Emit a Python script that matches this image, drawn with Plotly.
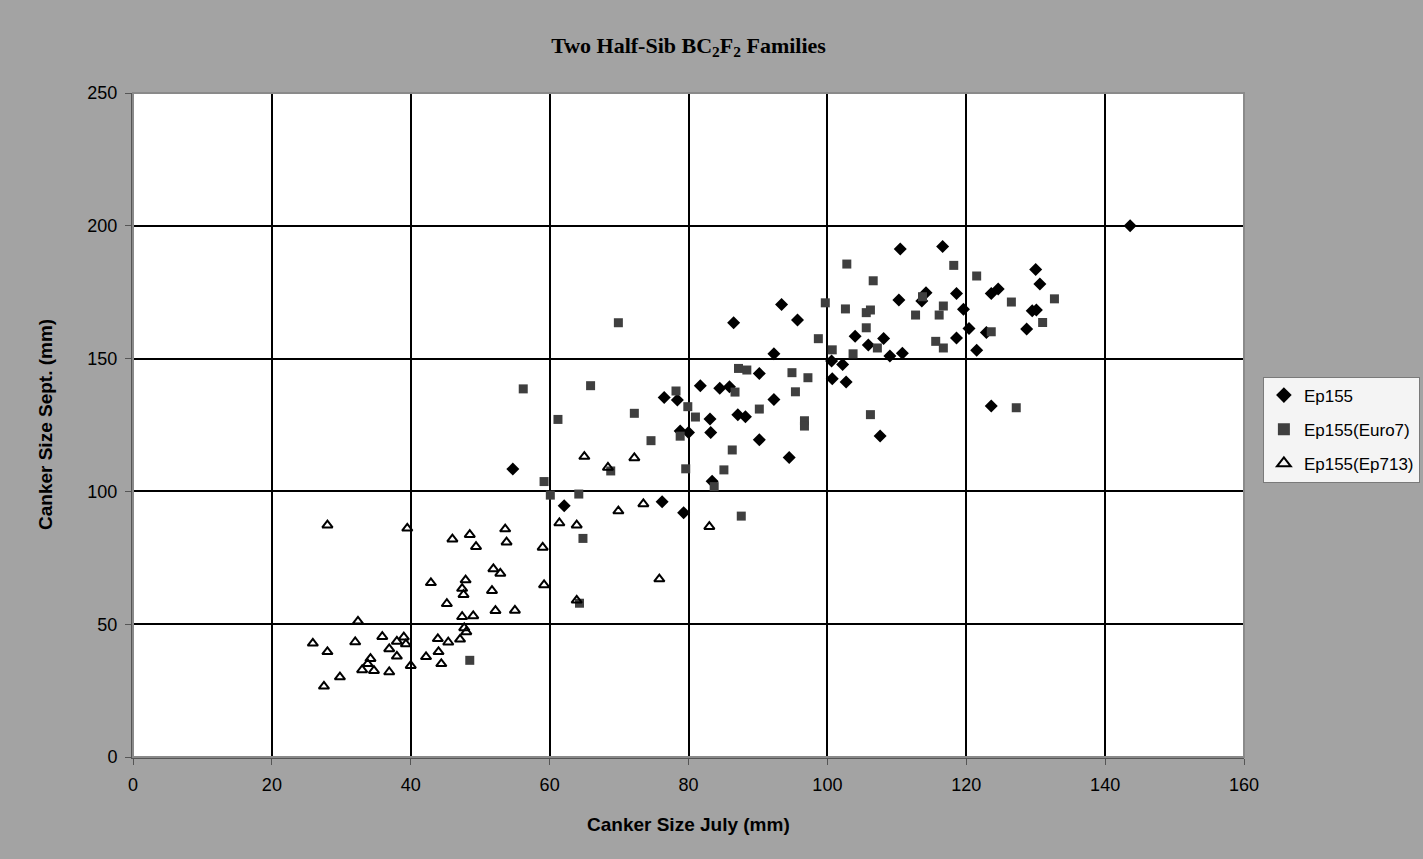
import plotly.graph_objects as go

# Canker size measurements (mm): July (x) vs September (y)
ep155_july = [54.7, 62.1, 76.2, 79.3, 83.4, 76.5, 78.4, 81.7, 84.5, 85.9,
              83.1, 83.2, 87.1, 88.2, 78.8, 80.0, 93.4, 86.5, 95.7, 92.3,
              104.0, 105.9, 108.1, 109.0, 110.8, 100.6, 102.2, 100.7, 102.7, 90.2,
              92.3, 90.2, 94.5, 107.6, 110.5, 116.6, 110.3, 114.2, 113.6, 118.6,
              119.6, 118.6, 120.4, 121.5, 122.9, 123.6, 124.6, 128.7, 129.5, 130.1,
              130.0, 130.6, 123.6, 143.6]
ep155_sept = [108.4, 94.6, 96.1, 92.0, 103.8, 135.4, 134.4, 139.8, 138.8, 139.4,
              127.3, 122.2, 128.9, 128.1, 122.7, 122.2, 170.4, 163.5, 164.5, 151.8,
              158.4, 155.1, 157.6, 151.0, 152.0, 149.1, 147.8, 142.4, 141.2, 144.4,
              134.6, 119.4, 112.8, 120.9, 191.3, 192.2, 172.1, 174.8, 171.7, 174.5,
              168.6, 157.8, 161.3, 153.1, 159.8, 174.5, 176.2, 161.1, 168.0, 168.3,
              183.5, 178.1, 132.2, 200.0]

euro7_july = [56.2, 65.9, 61.2, 72.2, 78.2, 79.9, 81.0, 74.6, 78.8, 86.3,
              87.2, 88.4, 86.7, 79.6, 85.1, 83.7, 68.8, 59.2, 60.1, 64.2,
              64.8, 87.6, 64.3, 48.5, 69.9, 99.7, 102.6, 105.6, 106.2, 105.6,
              98.7, 100.7, 103.7, 107.2, 112.7, 116.1, 116.7, 115.6, 116.7, 94.9,
              97.2, 95.4, 90.2, 96.7, 96.7, 106.2, 118.2, 121.5, 106.6, 102.8,
              113.7, 126.5, 132.7, 131.0, 123.6, 127.2]
euro7_sept = [138.6, 139.8, 127.1, 129.4, 137.8, 131.9, 128.0, 119.1, 120.8, 115.6,
              146.3, 145.7, 137.4, 108.5, 108.1, 101.8, 107.7, 103.7, 98.6, 99.0,
              82.3, 90.7, 57.9, 36.4, 163.5, 171.0, 168.7, 167.3, 168.3, 161.6,
              157.5, 153.3, 151.8, 154.0, 166.4, 166.4, 169.8, 156.5, 154.0, 144.7,
              142.8, 137.5, 131.0, 126.6, 124.6, 128.9, 185.1, 181.1, 179.3, 185.6,
              173.3, 171.3, 172.5, 163.6, 160.1, 131.5]

ep713_july = [28.0, 39.5, 46.0, 48.5, 49.4, 53.6, 53.8, 59.0, 51.9, 52.9,
              47.9, 47.4, 47.6, 51.7, 59.2, 42.9, 45.2, 52.2, 55.0, 47.4,
              49.0, 32.4, 47.7, 48.0, 25.9, 32.0, 35.9, 38.0, 39.0, 39.3,
              43.9, 45.4, 47.1, 28.0, 36.9, 38.0, 44.0, 34.2, 33.8, 33.0,
              34.7, 36.9, 42.2, 44.4, 40.0, 29.8, 27.5, 65.0, 72.2, 68.4,
              73.5, 69.9, 61.4, 63.9, 63.9, 83.0, 75.8]
ep713_sept = [87.3, 86.1, 82.0, 83.7, 79.2, 85.8, 80.9, 78.9, 70.8, 69.1,
              66.6, 63.4, 61.1, 62.6, 64.8, 65.6, 57.7, 55.1, 55.2, 52.8,
              53.1, 51.1, 48.6, 47.1, 42.8, 43.3, 45.3, 43.5, 45.1, 42.5,
              44.5, 43.2, 44.3, 39.6, 40.7, 37.9, 39.6, 37.0, 35.1, 32.8,
              32.5, 32.0, 37.7, 35.1, 34.4, 30.1, 26.6, 113.1, 112.6, 109.0,
              95.3, 92.6, 88.1, 87.3, 59.0, 86.7, 67.0]

x_ticks = [0, 20, 40, 60, 80, 100, 120, 140, 160]
y_ticks = [0, 50, 100, 150, 200, 250]

SANS = "Arial, Liberation Sans, sans-serif"
SERIF = "Times New Roman, Liberation Serif, serif"

fig = go.Figure()
fig.add_trace(go.Scatter(
    x=ep155_july, y=ep155_sept, mode="markers", name="Ep155", legendgroup="a",
    marker=dict(symbol="diamond", size=10, color="#000000")))
fig.add_trace(go.Scatter(
    x=euro7_july, y=euro7_sept, mode="markers", name="Ep155(Euro7)", legendgroup="b",
    marker=dict(symbol="square", size=9, color="#3f3f3f")))
fig.add_trace(go.Scatter(
    x=ep713_july, y=ep713_sept, mode="markers", name="Ep155(Ep713)", legendgroup="c",
    marker=dict(symbol="triangle-up-open", size=9, color="#000000",
                line=dict(width=2, color="#000000"))))

axis_common = dict(
    showgrid=True, gridcolor="#000000", gridwidth=2,
    zeroline=False, showline=True, linecolor="#555555", linewidth=2,
    ticks="outside", ticklen=6, tickcolor="#555555", tickwidth=1,
    ticklabelstandoff=4,
    tickfont=dict(family=SANS, size=18, color="#000000"),
)

fig.update_xaxes(range=[0, 160], tickvals=x_ticks, **axis_common)
fig.update_yaxes(range=[0, 250], tickvals=y_ticks, **axis_common)

fig.update_layout(
    width=1423, height=859,
    margin=dict(l=133, r=179, t=93, b=102, autoexpand=False),
    paper_bgcolor="#a3a3a3",
    plot_bgcolor="#ffffff",
    title=dict(
        text="<b>Two Half-Sib BC<sub>2</sub>F<sub>2</sub> Families</b>",
        font=dict(family=SERIF, size=22, color="#000000"),
        x=0.5, xref="paper", xanchor="center",
        y=1 - 45 / 859, yref="container", yanchor="middle"),
    legend=dict(
        x=1.017, y=0.573, xanchor="left", yanchor="top",
        bgcolor="#f4f4f4", bordercolor="#7a7a7a", borderwidth=1,
        font=dict(family=SANS, size=17, color="#000000"),
        itemwidth=30, tracegroupgap=9, itemsizing="constant"),
    shapes=[dict(type="rect", xref="paper", yref="paper", x0=0, x1=1, y0=0, y1=1,
                 line=dict(color="#8a8a8a", width=2), layer="above")],
    annotations=[
        dict(text="<b>Canker Size July (mm)</b>", xref="paper", yref="paper",
             x=0.5, y=-(824 - 757) / 664, xanchor="center", yanchor="middle",
             showarrow=False, font=dict(family=SANS, size=19, color="#000000")),
        dict(text="<b>Canker Size Sept. (mm)</b>", xref="paper", yref="paper",
             x=(45 - 133) / 1111, y=0.5, xanchor="center", yanchor="middle",
             textangle=-90, showarrow=False,
             font=dict(family=SANS, size=19, color="#000000")),
    ],
)

fig.write_html("out.html")
